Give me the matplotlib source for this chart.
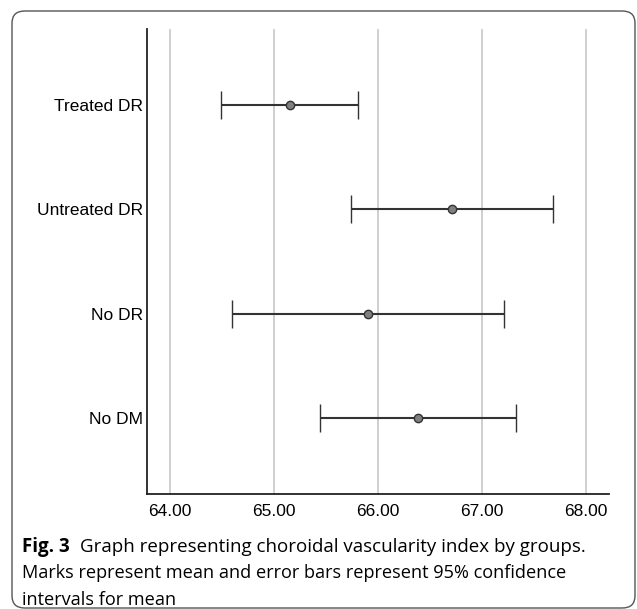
import matplotlib.pyplot as plt
from matplotlib.patches import FancyBboxPatch

groups = ["Treated DR", "Untreated DR", "No DR", "No DM"]
means = [65.15, 66.71, 65.90, 66.38]
lower = [64.49, 65.74, 64.60, 65.44]
upper = [65.81, 67.68, 67.21, 67.33]
xticks = [64, 65, 66, 67, 68]

W, H = 637, 609
fig = plt.figure(figsize=(W / 100, H / 100), dpi=100)

# rounded frame around the whole figure
frame = FancyBboxPatch((12 / W, 1 / H), 623 / W, 597 / H,
                       boxstyle="round,pad=0,rounding_size=0.02",
                       transform=fig.transFigure, fill=False,
                       edgecolor="#555555", linewidth=1.0)
fig.patches.append(frame)

ax = fig.add_axes([147 / W, 1 - 494 / H, (609 - 147) / W, (494 - 29) / H])

ypos = list(range(len(groups)))
err_lo = [m - l for m, l in zip(means, lower)]
err_hi = [u - m for m, u in zip(means, upper)]
ax.errorbar(means, ypos, xerr=[err_lo, err_hi], fmt="o", color="#333333",
            ecolor="#333333", elinewidth=1.5, capsize=10, capthick=1.5,
            markersize=6, markerfacecolor="#808080", markeredgecolor="#333333",
            markeredgewidth=1.0, zorder=3)

ax.set_xlim(63.78, 68.22)
ax.set_ylim(3.73, -0.73)
ax.set_xticks(xticks)
ax.set_xticklabels([f"{v:.2f}" for v in xticks], family="Liberation Sans",
                   fontsize=12.5)
ax.set_yticks(ypos)
ax.set_yticklabels(groups, family="Liberation Sans", fontsize=12.5)
ax.tick_params(length=0)
ax.tick_params(axis="x", pad=7)
ax.tick_params(axis="y", pad=3)
ax.xaxis.grid(True, color="#c8c8c8", linewidth=1.2)
ax.set_axisbelow(True)
for s in ["top", "right"]:
    ax.spines[s].set_visible(False)
for s in ["left", "bottom"]:
    ax.spines[s].set_linewidth(1.3)
    ax.spines[s].set_color("#222222")

cap_font = "Open Sans"
fig.text(22 / W, 1 - 547 / H, "Fig. 3", fontsize=13.5, fontweight="bold",
         family=cap_font, va="center", ha="left")
fig.text(80 / W, 1 - 547 / H,
         "Graph representing choroidal vascularity index by groups.",
         fontsize=13.5, family=cap_font, va="center", ha="left")
fig.text(22 / W, 1 - 573 / H,
         "Marks represent mean and error bars represent 95% confidence",
         fontsize=13.1, family=cap_font, va="center", ha="left")
fig.text(22 / W, 1 - 600 / H, "intervals for mean",
         fontsize=13.1, family=cap_font, va="center", ha="left")

fig.savefig("out.png", dpi=100)
